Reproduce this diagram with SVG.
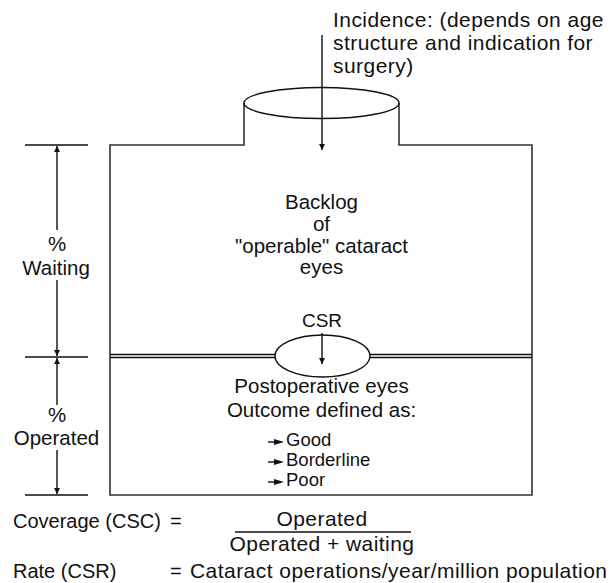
<svg xmlns="http://www.w3.org/2000/svg" width="615" height="583" viewBox="0 0 615 583">
<style>
text{font-family:"Liberation Sans",Arial,sans-serif;font-size:20.5px;fill:#111}
.c{text-anchor:middle}
.w{font-size:21px;letter-spacing:0.45px}
.f{font-size:20px}
.s{font-size:18.5px}
.ln{stroke:#111;stroke-width:1.4;fill:none}
.bx{stroke:#333;stroke-width:1.6;fill:none}
</style>
<defs>
<marker id="ah" viewBox="0 0 10 10" refX="10" refY="5" markerWidth="6" markerHeight="11" markerUnits="userSpaceOnUse" orient="auto">
<path d="M0,0 L10,5 L0,10 z" fill="#111"/>
</marker>
<symbol id="blt" viewBox="0 0 16 8" overflow="visible">
<path d="M0,4 L9,4" stroke="#111" stroke-width="1.4"/>
<path d="M6,1 L16,4 L6,7 z" fill="#111"/>
</symbol>
</defs>

<g id="tank">
<path class="bx" d="M244,103 L244,145 L110,145 L110,495 L532,495 L532,145 L399,145 L399,103"/>
<ellipse class="ln" cx="321.5" cy="103" rx="77.5" ry="15.5" fill="#fff"/>
</g>

<g id="incidence">
<text class="w" x="333" y="27">Incidence: (depends on age</text>
<text class="w" x="333" y="50">structure and indication for</text>
<text class="w" x="333" y="73">surgery)</text>
</g>

<g id="backlog">
<text class="c" x="321.5" y="209">Backlog</text>
<text class="c" x="321.5" y="231">of</text>
<text class="c" x="321.5" y="253">"operable" cataract</text>
<text class="c" x="321.5" y="274">eyes</text>
</g>

<g id="csr">
<path class="ln" d="M110,354.5 L275,354.5 M110,357.5 L275,357.5 M370,354.5 L532,354.5 M370,357.5 L532,357.5"/>
<ellipse class="ln" cx="322.5" cy="356" rx="47.5" ry="21" fill="#fff"/>
<text class="c" x="322" y="327" style="font-size:19px">CSR</text>
</g>

<g id="postop">
<text class="c" x="321.5" y="393">Postoperative eyes</text>
<text class="c" x="321.5" y="417">Outcome defined as:</text>
<use href="#blt" x="268" y="438" width="16" height="8"/>
<use href="#blt" x="268" y="458" width="16" height="8"/>
<use href="#blt" x="268" y="478" width="16" height="8"/>
<text class="s" x="286" y="446">Good</text>
<text class="s" x="286" y="466">Borderline</text>
<text class="s" x="286" y="486">Poor</text>
</g>

<g id="waiting">
<text class="c" x="57" y="251">%</text>
<text class="c" x="56" y="275">Waiting</text>
</g>
<g id="operated">
<text class="c" x="57" y="422">%</text>
<text class="c" x="56.5" y="445">Operated</text>
</g>

<g id="connectors">
<path class="ln" d="M322,35 L322,150" marker-end="url(#ah)"/>
<path class="ln" d="M322,333 L322,364" marker-end="url(#ah)"/>
<path class="ln" d="M25,145 L88,145 M25,357 L88,357 M25,495 L88,495"/>
<path class="ln" d="M57,230 L57,146" marker-end="url(#ah)"/>
<path class="ln" d="M57,280 L57,356" marker-end="url(#ah)"/>
<path class="ln" d="M57,405 L57,358" marker-end="url(#ah)"/>
<path class="ln" d="M57,450 L57,494" marker-end="url(#ah)"/>
</g>

<g id="formulas">
<text class="f" x="13" y="528">Coverage (CSC)</text>
<text class="f" x="170" y="528">=</text>
<text class="w c" x="322" y="526">Operated</text>
<path class="ln" d="M235,532 L411,532"/>
<text class="w c" x="322" y="551">Operated + waiting</text>
<text class="f" x="13" y="578">Rate (CSR)</text>
<text class="f" x="170" y="578">=</text>
<text class="w" x="190" y="578">Cataract operations/year/million population</text>
</g>
</svg>
